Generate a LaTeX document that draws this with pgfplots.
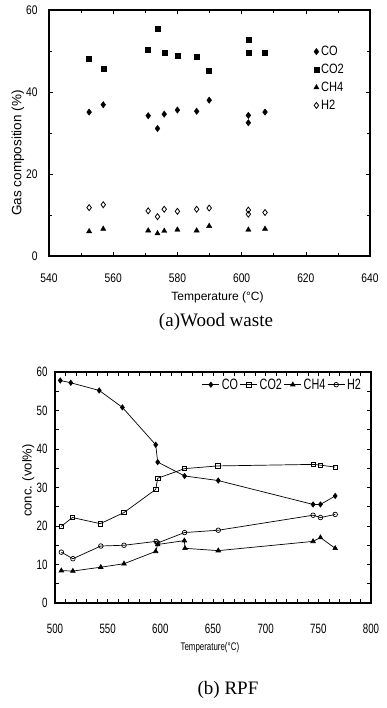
\documentclass[border=0pt]{standalone}
\usepackage{fontspec}
\setmainfont{Liberation Sans}
\newfontfamily\seriffont{Liberation Serif}
\newfontfamily\narrow[FakeStretch=0.72]{Liberation Sans}
\newfontfamily\semi[FakeStretch=0.82]{Liberation Sans}
\usepackage{pgfplots}
\pgfplotsset{compat=1.18}

\begin{document}
\begin{tikzpicture}
\useasboundingbox (0pt,0pt) rectangle (386pt,708pt);

% ---------------- (a) Wood waste ----------------
\begin{axis}[
  at={(49pt,452pt)}, anchor=south west, scale only axis,
  width=321pt, height=246pt,
  xmin=540, xmax=640, ymin=0, ymax=60,
  xtick={540,560,...,640}, ytick={0,20,40,60},
  minor xtick={550,570,...,630}, minor ytick={10,30,50},
  tick align=inside, major tick length=4pt, minor tick length=3pt,
  axis line style={line width=2pt},
  every tick/.style={black, line width=0.6pt},
  /pgf/number format/assume math mode=true,
  /pgf/number format/1000 sep={},
  ticklabel style={font=\semi\fontsize{12.5}{12.5}\selectfont},
  xticklabel style={yshift=-14pt},
  yticklabel style={xshift=-8pt},
  xlabel={Temperature (°C)},
  ylabel={Gas composition (\%)},
  xlabel style={font=\fontsize{12}{12}\selectfont, at={(axis description cs:0.525,-0.167)}, anchor=center},
  ylabel style={font=\fontsize{13.5}{13.5}\selectfont, at={(axis description cs:-0.097,0.419)}, anchor=center},
  legend style={draw=none, fill=none, at={(0.815,0.87)}, anchor=north west,
    font=\semi\fontsize{13.5}{13.5}\selectfont, row sep=3pt,
    /tikz/every odd column/.append style={column sep=0pt}},
  legend cell align=left,
]
\addplot[only marks, mark=diamond*, mark size=3.2pt, black] coordinates {
(552.5,35.1) (556.9,36.9) (570.9,34.2) (573.8,31.1) (575.9,34.6) (580.0,35.6)
(586.0,35.3) (589.9,38.0) (602.1,34.3) (602.1,32.5) (607.3,35.1)};
\addlegendentry{CO}
\addplot[only marks, mark=square*, mark size=2.5pt, black] coordinates {
(552.5,48.0) (556.9,45.8) (570.9,50.2) (573.8,55.4) (575.9,49.6) (580.0,48.8)
(586.0,48.5) (589.9,45.1) (602.1,52.7) (602.1,49.6) (607.3,49.7)};
\addlegendentry{CO2}
\addplot[only marks, mark=triangle*, mark size=3pt, black] coordinates {
(552.5,6.0) (556.9,6.6) (570.9,6.2) (573.8,5.5) (575.9,6.1) (580.0,6.4)
(586.0,6.2) (589.9,7.3) (602.1,6.4) (607.3,6.6)};
\addlegendentry{CH4}
\addplot[only marks, mark=diamond, mark size=3pt, black, mark options={fill=white, line width=0.8pt}] coordinates {
(552.5,11.8) (556.9,12.5) (570.9,11.0) (573.8,9.6) (575.9,11.4) (580.0,10.9)
(586.0,11.4) (589.9,11.7) (602.1,11.2) (602.1,10.2) (607.3,10.6)};
\addlegendentry{H2}
\end{axis}

\node[font=\seriffont\fontsize{19}{19}\selectfont] at (216pt,386pt) {(a)Wood waste};

% ---------------- (b) RPF ----------------
\begin{axis}[
  at={(55pt,105pt)}, anchor=south west, scale only axis,
  width=316pt, height=231pt,
  xmin=500, xmax=800, ymin=0, ymax=60,
  xtick={500,550,...,800}, ytick={0,10,...,60},
  minor x tick num=4, minor y tick num=1,
  tick align=inside, major tick length=4pt, minor tick length=4pt,
  axis line style={line width=1.3pt},
  every tick/.style={black, line width=0.6pt},
  /pgf/number format/assume math mode=true,
  /pgf/number format/1000 sep={},
  ticklabel style={font=\narrow\fontsize{13.5}{13.5}\selectfont},
  xticklabel style={yshift=-18pt},
  yticklabel style={xshift=-4pt},
  xlabel={Temperature(°C)},
  ylabel={conc. (vol\%)},
  xlabel style={font=\narrow\fontsize{11}{11}\selectfont, at={(axis description cs:0.49,-0.195)}, anchor=center},
  ylabel style={font=\fontsize{13}{13}\selectfont, at={(axis description cs:-0.085,0.53)}, anchor=center},
  legend style={draw=none, fill=none, at={(0.455,0.945)}, anchor=west,
    font=\narrow\fontsize{15}{15}\selectfont,
    /tikz/every odd column/.append style={column sep=0pt},
    /tikz/every even column/.append style={column sep=0pt}},
  legend columns=4,
]
\addplot[black, line width=0.7pt, mark=diamond*, mark size=2.6pt] coordinates {
(505,57.8) (515,57.2) (542,55.2) (564,50.8) (595.6,41.1) (597.5,36.6)
(623,33.0) (655,31.8) (745,25.6) (752,25.6) (766,27.8)};
\addlegendentry{CO}
\addplot[black, line width=0.7pt, mark=square, mark size=2.2pt, mark options={fill=white}] coordinates {
(506,19.9) (516.5,22.2) (543,20.6) (565.5,23.5) (595.6,29.5) (597.5,32.4)
(623,34.9) (654.5,35.6) (745,36.0) (752,35.8) (766,35.3)};
\addlegendentry{CO2}
\addplot[black, line width=0.7pt, mark=triangle*, mark size=2.6pt] coordinates {
(506,8.4) (517,8.3) (543.5,9.3) (565.5,10.2) (595.6,13.4) (597.5,15.2)
(622.8,16.2) (623.4,14.2) (655,13.6) (745,16.0) (752,17.0) (766,14.2)};
\addlegendentry{CH4}
\addplot[black, line width=0.7pt, mark=o, mark size=2.3pt, mark options={fill=white}] coordinates {
(506,13.2) (517,11.5) (543.5,14.8) (565.5,15.0) (596,16.0) (597.5,15.6)
(623,18.3) (655,18.9) (745,22.8) (752,22.2) (766,23.0)};
\addlegendentry{H2}
\end{axis}

\node[font=\seriffont\fontsize{19}{19}\selectfont] at (228pt,18pt) {(b) RPF};
\end{tikzpicture}
\end{document}
